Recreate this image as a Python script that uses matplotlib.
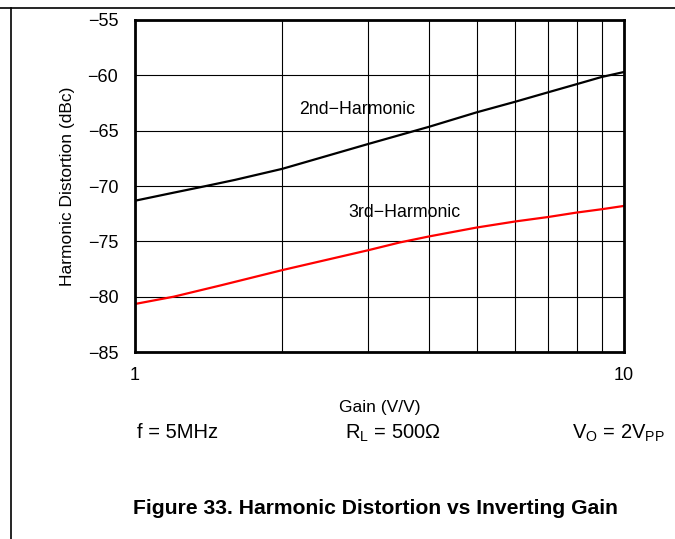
import numpy as np
import matplotlib
matplotlib.use('Agg')
import matplotlib.pyplot as plt
from matplotlib.lines import Line2D

plt.rcParams['font.family'] = ['Liberation Sans', 'DejaVu Sans']
plt.rcParams['axes.unicode_minus'] = True

# Data
gain = [1, 1.2, 1.38, 1.6, 2, 3, 4, 5, 6, 7, 8, 9, 10]
hd2 = [-71.33, -70.6, -70.05, -69.45, -68.45, -66.2, -64.64, -63.34, -62.38, -61.53, -60.8, -60.15, -59.7]
gain3 = [1, 1.2, 1.5, 2, 3, 3.48, 4, 5, 6, 7, 8, 9, 10]
hd3 = [-80.66, -80.0, -78.97, -77.6, -75.8, -75.1, -74.55, -73.75, -73.2, -72.8, -72.4, -72.1, -71.8]

fig = plt.figure(figsize=(6.75, 5.39), dpi=100)
ax = fig.add_axes([0.2, 0.3469, 0.7244, 0.616])

ax.plot(gain, hd2, color='black', lw=1.6)
ax.plot(gain3, hd3, color='red', lw=1.6)

ax.set_xscale('log')
ax.set_xlim(1, 10)
ax.set_ylim(-85, -55)
ax.set_yticks(np.arange(-85, -54, 5))
ax.set_xticks([1, 10])
ax.set_xticklabels(['1', '10'])
ax.set_xticks(np.arange(2, 10), minor=True)
ax.xaxis.set_minor_formatter(plt.NullFormatter())
ax.grid(True, which='both', color='black', lw=0.8)
ax.tick_params(which='both', length=0, labelsize=13)
ax.tick_params(axis='y', pad=12)
ax.tick_params(axis='x', pad=11)
for s in ax.spines.values():
    s.set_linewidth(2)

ax.set_xlabel('Gain (V/V)', fontsize=12.5, labelpad=11)
ax.set_ylabel('Harmonic Distortion (dBc)', fontsize=12.5, labelpad=9)

ax.text(2.85, -63.1, '2nd\u2212Harmonic', fontsize=12.8, ha='center', va='center')
ax.text(3.55, -72.4, '3rd\u2212Harmonic', fontsize=12.8, ha='center', va='center')

fig.text(137 / 675, 1 - 433 / 539, 'f = 5MHz', fontsize=14.5, ha='left', va='center')
fig.text(345 / 675, 1 - 433 / 539, r'R$_\mathregular{L}$ = 500Ω', fontsize=14.5, ha='left', va='center')
fig.text(665 / 675, 1 - 433 / 539, r'V$_\mathregular{O}$ = 2V$_\mathregular{PP}$', fontsize=14.5, ha='right', va='center')

fig.text(375 / 675, 1 - 509 / 539, 'Figure 33. Harmonic Distortion vs Inverting Gain',
         fontsize=15.2, fontweight='bold', ha='center', va='center')

# page frame lines
fig.add_artist(Line2D([0, 1], [1 - 8 / 539, 1 - 8 / 539], color='black', lw=1.2))
fig.add_artist(Line2D([10.5 / 675, 10.5 / 675], [0, 1 - 8 / 539], color='black', lw=1.2))

fig.savefig('out.png', dpi=100)
